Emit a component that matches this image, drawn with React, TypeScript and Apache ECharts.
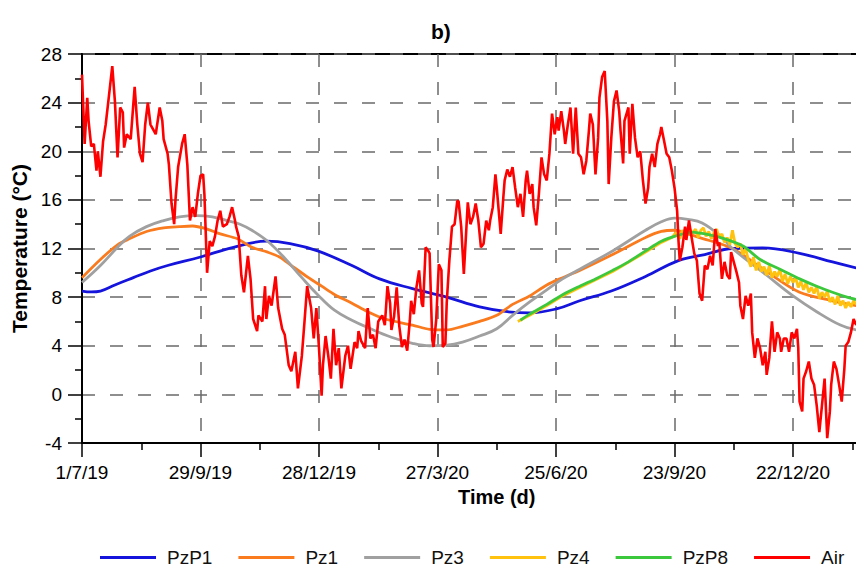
import React, { useEffect, useRef } from "react";
import * as echarts from "echarts";

// Days since 1/7/19 at each labelled tick (every 90 days)
const tickLabels = ["1/7/19", "29/9/19", "28/12/19", "27/3/20", "25/6/20", "23/9/20", "22/12/20"];
const seriesNames = ["PzP1", "Pz1", "Pz3", "Pz4", "PzP8", "Air"];
const seriesColors = ["#1414dc", "#fa7a1e", "#a0a0a0", "#ffc20e", "#3cc83c", "#ff0000"];

// [day, temperature °C]
const pzp1: number[][] = [
  [0, 8.5], [7, 8.43], [14, 8.5], [25, 9.0], [39, 9.6], [52, 10.15], [65, 10.6], [90, 11.3],
  [115, 12.1], [140, 12.6], [158, 12.4], [179, 11.8], [205, 10.6], [226, 9.5], [251, 8.7], [277, 8.0],
  [302, 7.2], [323, 6.8], [340, 6.7], [361, 7.05], [378, 7.7], [402, 8.5], [428, 9.7], [453, 11.0],
  [473, 11.5], [494, 12.0], [517, 12.05], [545, 11.6], [570, 10.9], [588, 10.4],
];

const pz1: number[][] = [
  [0, 9.6], [14, 11.1], [27, 12.3], [36, 12.8], [49, 13.4], [62, 13.7], [74, 13.8], [84, 13.85],
  [95, 13.6], [105, 13.2], [118, 12.8], [129, 12.1], [141, 11.7], [150, 11.3], [159, 10.6], [172, 9.6],
  [182, 8.9], [192, 8.2], [205, 7.5], [217, 6.8], [230, 6.2], [251, 5.7], [264, 5.35], [277, 5.3],
  [289, 5.6], [302, 6.0], [315, 6.5], [327, 7.4], [340, 8.1], [353, 9.0], [365, 9.6], [378, 10.2],
  [403, 11.5], [428, 12.9], [440, 13.4], [450, 13.5], [460, 13.2], [469, 12.9], [494, 12.0],
  [520, 10.1], [545, 8.4], [570, 7.7], [588, 7.3],
];

const pz3: number[][] = [
  [0, 9.2], [14, 10.6], [27, 12.1], [36, 13.0], [49, 13.8], [62, 14.3], [74, 14.6], [87, 14.7],
  [99, 14.6], [110, 14.3], [120, 14.0], [129, 13.5], [141, 12.6], [154, 11.2], [167, 9.6], [179, 8.2],
  [192, 6.9], [205, 6.1], [217, 5.5], [235, 4.7], [251, 4.2], [264, 4.0], [277, 4.05], [289, 4.3],
  [302, 4.8], [315, 5.4], [327, 6.5], [340, 7.6], [353, 8.6], [365, 9.5], [378, 10.3], [403, 11.8],
  [428, 13.5], [440, 14.2], [450, 14.5], [460, 14.4], [471, 14.1], [485, 13.0], [494, 12.0],
  [520, 9.8], [540, 8.1], [558, 6.8], [576, 5.7], [588, 5.3],
];

const pz4: number[][] = [
  [331, 6.0], [340, 6.5], [353, 7.3], [365, 8.1], [378, 8.8], [403, 10.1], [428, 11.7], [440, 12.5],
  [448, 12.9], [451, 13.3], [454, 12.8], [456, 13.5], [459, 13.1], [461, 13.8], [463, 13.2],
  [466, 13.6], [468, 12.9], [470, 13.5], [472, 13.7], [474, 13.0], [476, 13.4], [478, 12.8],
  [480, 13.3], [482, 13.6], [484, 12.9], [486, 13.2], [488, 12.5], [490, 12.9], [492, 12.3],
  [494, 13.5], [496, 12.4], [498, 12.1], [500, 12.4], [502, 11.5], [504, 12.0], [506, 11.1],
  [508, 10.5], [510, 11.3], [512, 10.2], [514, 10.9], [516, 10.1], [518, 10.5], [520, 9.8],
  [522, 10.6], [524, 9.6], [526, 10.1], [528, 9.7], [530, 10.3], [532, 9.3], [534, 9.9], [536, 9.1],
  [538, 9.7], [540, 9.2], [542, 9.6], [544, 8.8], [546, 9.3], [548, 8.6], [550, 9.2], [552, 8.4],
  [554, 8.8], [556, 8.3], [558, 8.9], [560, 7.9], [562, 8.4], [564, 8.0], [566, 8.5], [568, 7.6],
  [570, 8.0], [572, 7.4], [574, 8.1], [576, 7.3], [578, 7.7], [580, 7.1], [582, 7.6], [584, 7.2],
  [586, 7.7], [588, 7.4],
];

const pzp8: number[][] = [
  [333, 6.1], [340, 6.6], [353, 7.4], [365, 8.2], [378, 8.9], [390, 9.5], [403, 10.2], [415, 10.9],
  [428, 11.8], [440, 12.6], [453, 13.1], [463, 13.35], [473, 13.2], [485, 12.9], [502, 12.2],
  [515, 11.1], [532, 10.2], [545, 9.5], [558, 8.9], [570, 8.4], [581, 8.0], [588, 7.8],
];

const air: number[][] = [
  [0, 26.3], [2, 20.6], [4, 24.4], [5, 22.5], [7, 20.4], [9, 20.6], [11, 18.4], [12, 20.0],
  [14, 17.9], [16, 20.8], [18, 22.2], [20, 24.1], [23, 27.0], [25, 24.1], [27, 19.5], [29, 23.6],
  [31, 23.2], [32, 20.3], [34, 21.4], [37, 21.0], [39, 23.9], [40, 25.3], [42, 22.2], [44, 19.8],
  [46, 19.1], [48, 22.2], [50, 24.0], [52, 22.2], [54, 21.8], [56, 21.4], [59, 23.6], [61, 22.5],
  [62, 21.0], [65, 19.8], [66, 18.9], [68, 15.7], [70, 14.0], [71, 16.0], [73, 18.7], [76, 20.6],
  [78, 21.4], [80, 18.9], [82, 14.3], [84, 15.4], [86, 14.6], [88, 16.5], [90, 18.0], [92, 18.1],
  [93, 16.4], [95, 10.0], [97, 12.6], [99, 12.2], [101, 13.0], [103, 14.3], [105, 15.1], [107, 13.8],
  [110, 14.0], [112, 14.6], [114, 15.4], [116, 14.4], [117, 13.8], [119, 13.0], [121, 9.8],
  [123, 8.4], [126, 11.4], [128, 9.5], [130, 6.2], [133, 5.2], [134, 6.5], [137, 6.0], [139, 8.9],
  [140, 6.2], [142, 8.1], [144, 7.3], [147, 9.7], [149, 7.1], [152, 5.4], [154, 4.9], [157, 2.4],
  [159, 1.9], [162, 3.5], [164, 0.5], [167, 3.2], [169, 6.0], [171, 8.9], [174, 7.1], [176, 4.6],
  [178, 7.1], [180, 3.8], [182, -0.1], [183, 2.4], [185, 4.8], [187, 3.2], [189, 1.3], [191, 5.4],
  [193, 2.4], [195, 3.8], [197, 0.5], [200, 3.2], [202, 4.0], [204, 2.1], [207, 4.3], [209, 3.8],
  [210, 5.2], [212, 4.4], [215, 3.8], [217, 7.1], [219, 4.6], [221, 4.9], [223, 3.8], [225, 6.0],
  [228, 6.5], [230, 5.7], [232, 8.9], [234, 7.5], [235, 5.3], [237, 6.4], [239, 8.8], [241, 5.6],
  [243, 3.9], [245, 4.5], [247, 3.6], [249, 6.1], [250, 7.7], [252, 6.6], [254, 8.8], [256, 10.2],
  [258, 7.5], [259, 7.2], [261, 12.1], [263, 11.8], [264, 11.6], [266, 4.5], [267, 3.9], [269, 6.1],
  [271, 10.7], [273, 10.2], [274, 3.9], [276, 4.2], [277, 7.5], [279, 11.0], [281, 13.8], [283, 14.0],
  [285, 15.9], [286, 15.9], [288, 13.8], [290, 9.9], [292, 13.8], [293, 15.8], [295, 14.0],
  [297, 14.6], [299, 15.7], [301, 14.3], [303, 12.1], [305, 12.4], [307, 14.3], [309, 13.5],
  [310, 14.3], [312, 15.4], [314, 18.1], [315, 17.0], [318, 13.2], [320, 16.2], [321, 17.6],
  [323, 18.5], [325, 17.9], [327, 18.7], [329, 17.0], [331, 15.4], [333, 16.5], [335, 14.6],
  [337, 17.6], [338, 18.4], [340, 16.5], [342, 17.3], [343, 15.4], [345, 13.9], [347, 16.5],
  [349, 19.5], [351, 18.1], [353, 17.6], [355, 19.8], [357, 23.1], [359, 21.4], [361, 22.8],
  [362, 21.7], [364, 23.3], [366, 21.7], [367, 20.6], [369, 22.2], [371, 23.6], [373, 19.8],
  [375, 23.6], [377, 19.8], [379, 19.5], [381, 18.1], [383, 19.2], [385, 21.7], [386, 23.1],
  [388, 22.2], [390, 18.1], [392, 21.1], [393, 24.4], [395, 26.1], [397, 26.6], [399, 22.5],
  [400, 17.3], [402, 21.1], [404, 24.1], [406, 25.0], [408, 23.3], [409, 21.7], [411, 19.0],
  [412, 22.5], [415, 23.6], [416, 19.8], [418, 23.9], [420, 21.1], [422, 19.5], [424, 20.0],
  [426, 17.6], [428, 15.7], [430, 17.0], [431, 18.7], [433, 19.8], [435, 18.7], [437, 20.6],
  [439, 21.4], [440, 22.0], [442, 20.9], [444, 19.8], [446, 19.5], [448, 18.4], [450, 17.0],
  [452, 15.1], [453, 12.7], [454, 11.0], [456, 12.1], [458, 13.8], [459, 12.7], [461, 14.3],
  [463, 12.9], [465, 11.6], [467, 11.0], [469, 8.3], [471, 7.7], [473, 10.6], [475, 10.3],
  [477, 11.4], [479, 10.6], [481, 13.6], [483, 12.2], [484, 12.5], [486, 9.5], [488, 10.9],
  [490, 9.8], [492, 9.5], [493, 11.7], [495, 10.9], [497, 10.1], [499, 9.2], [500, 7.3], [502, 6.2],
  [504, 8.1], [506, 7.3], [508, 8.3], [509, 5.1], [511, 3.0], [513, 4.6], [515, 3.8], [517, 2.4],
  [519, 3.5], [520, 1.6], [522, 3.0], [524, 6.0], [526, 3.5], [528, 5.1], [530, 4.6], [531, 3.5],
  [533, 4.6], [535, 4.6], [537, 3.5], [539, 5.1], [541, 4.6], [543, 5.4], [544, 3.8], [545, -0.6],
  [547, -1.4], [548, 1.3], [550, 1.9], [552, 2.7], [554, 1.3], [556, 0.8], [558, -0.9], [560, -3.1],
  [562, -0.9], [564, 1.3], [566, -3.6], [568, -1.4], [569, 0.8], [571, 2.7], [573, 2.1], [575, 0.8],
  [577, -0.6], [579, 2.1], [580, 4.0], [582, 4.3], [584, 5.1], [586, 6.2], [588, 5.7],
];

const FONT = "Liberation Sans, Arial, sans-serif";

export default function App() {
  const ref = useRef<HTMLDivElement>(null);

  useEffect(() => {
    if (!ref.current) return;
    const chart = echarts.init(ref.current, null, { renderer: "svg" });
    const data = [pzp1, pz1, pz3, pz4, pzp8, air];
    const smoothFlags = [0.4, 0.3, 0.4, false, 0.3, false];

    chart.setOption({
      animation: false,
      backgroundColor: "#ffffff",
      textStyle: { fontFamily: FONT },
      title: {
        text: "b)",
        left: 426,
        top: 16,
        textStyle: { fontFamily: FONT, fontSize: 21, fontWeight: "bold", color: "#000" },
      },
      grid: {
        left: 82,
        top: 54,
        width: 829.5,
        height: 389,
        show: true,
        borderColor: "#000",
        borderWidth: 2,
        containLabel: false,
        outerBoundsMode: "none",
      },
      legend: {
        data: seriesNames,
        left: 95,
        top: 543,
        icon: "rect",
        itemWidth: 56,
        itemHeight: 3,
        itemGap: 26,
        textStyle: { fontFamily: FONT, fontSize: 19, color: "#111", padding: [0, 0, 0, 6] },
      },
      xAxis: {
        type: "value",
        min: 0,
        max: 630,
        interval: 90,
        name: "Time (d)",
        nameLocation: "middle",
        nameGap: 43,
        nameTextStyle: { fontFamily: FONT, fontSize: 20, fontWeight: "bold", color: "#000" },
        axisLine: { show: true, onZero: false, lineStyle: { color: "#000", width: 2 } },
        axisTick: { show: true, length: 14, lineStyle: { color: "#000", width: 1.5 } },
        minorTick: { show: true, splitNumber: 2, length: 7, lineStyle: { color: "#000", width: 1.5 } },
        axisLabel: {
          margin: 20,
          fontFamily: FONT,
          fontSize: 19,
          color: "#000",
          formatter: (v: number) => tickLabels[Math.round(v / 90)] ?? "",
        },
        splitLine: {
          show: true,
          lineStyle: { color: "#6a6a6a", width: 1.5, type: [13, 15] },
        },
      },
      yAxis: {
        type: "value",
        min: -4,
        max: 28,
        interval: 4,
        name: "Temperature (°C)",
        nameLocation: "middle",
        nameGap: 48,
        nameTextStyle: { fontFamily: FONT, fontSize: 21, fontWeight: "bold", color: "#000" },
        axisLine: { show: true, onZero: false, lineStyle: { color: "#000", width: 2 } },
        axisTick: { show: true, length: 14, lineStyle: { color: "#000", width: 1.5 } },
        minorTick: { show: true, splitNumber: 2, length: 7, lineStyle: { color: "#000", width: 1.5 } },
        axisLabel: { margin: 20, fontFamily: FONT, fontSize: 19, color: "#000" },
        splitLine: {
          show: true,
          lineStyle: { color: "#6a6a6a", width: 1.5, type: [13, 15] },
        },
      },
      series: seriesNames.map((name, i) => ({
        name,
        type: "line",
        data: data[i],
        symbol: "none",
        smooth: smoothFlags[i],
        clip: true,
        color: seriesColors[i],
        lineStyle: { color: seriesColors[i], width: i === 5 ? 2.6 : 2.8 },
        z: 2 + i,
      })),
    });

    return () => chart.dispose();
  }, []);

  return (
    <div
      ref={ref}
      style={{ position: "absolute", left: 0, top: 0, width: 856, height: 568 }}
    />
  );
}
